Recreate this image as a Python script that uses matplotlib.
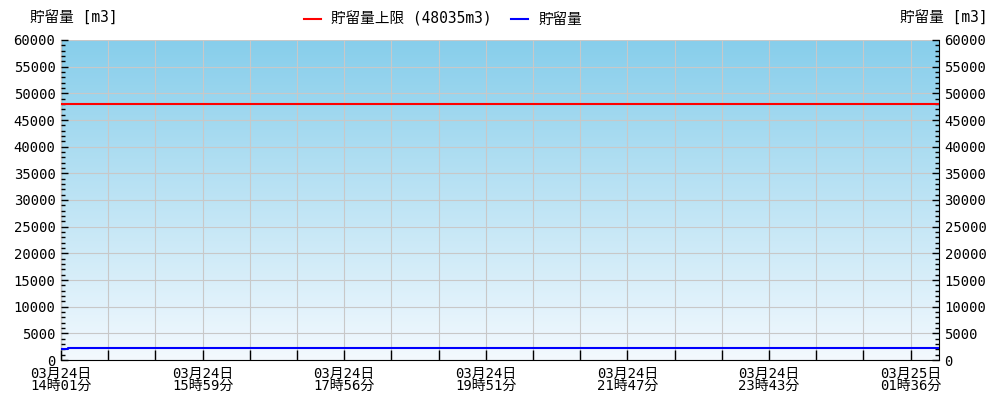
import matplotlib
matplotlib.use("Agg")
import matplotlib.pyplot as plt
import numpy as np
from matplotlib.colors import LinearSegmentedColormap
from matplotlib.ticker import MultipleLocator

plt.rcParams['font.family'] = ['DejaVu Sans Mono', 'Noto Sans CJK JP']

# data
x_idx = [0, 6, 6, 744]
storage = [2000, 2000, 2200, 2200]
upper_limit = 48035
tick_pos = [0, 120, 240, 360, 480, 600, 720]
tick_labels = ["03月24日\n14時01分", "03月24日\n15時59分", "03月24日\n17時56分",
               "03月24日\n19時51分", "03月24日\n21時47分", "03月24日\n23時43分",
               "03月25日\n01時36分"]
x_max = 744
y_max = 60000

fig = plt.figure(figsize=(10, 4), dpi=100)
ax = fig.add_axes([0.061, 0.1, 0.878, 0.8])

cmap = LinearSegmentedColormap.from_list("g", ["#f3f9fe", "#87ceeb"])
grad = np.linspace(0, 1, 256).reshape(-1, 1)
ax.imshow(grad, extent=[0, x_max, 0, y_max], origin='lower', aspect='auto',
          cmap=cmap, zorder=0)

ax.set_xlim(0, x_max)
ax.set_ylim(0, y_max)

l1, = ax.plot([0, x_max], [upper_limit, upper_limit], color='#ff0000', lw=1.5, zorder=3,
              label='貯留量上限 (48035m3)')
l2, = ax.plot(x_idx, storage, color='#0000ff', lw=1.5, zorder=3, label='貯留量')

ax.set_xticks(tick_pos)
ax.set_xticklabels(tick_labels, fontsize=10, linespacing=0.85)
ax.xaxis.set_minor_locator(MultipleLocator(40))
ax.yaxis.set_major_locator(MultipleLocator(5000))
ax.yaxis.set_minor_locator(MultipleLocator(1000))
ax.tick_params(axis='y', which='major', direction='in', length=5, width=1,
               labelsize=10, right=True, labelright=True, pad=4)
ax.tick_params(axis='y', which='minor', direction='in', length=3, width=1, right=True)
ax.tick_params(axis='x', which='both', direction='in', length=7, width=1,
               labelsize=10, pad=5)

ax.grid(True, which='major', axis='y', color='#c8c8c8', lw=0.8, zorder=1)
ax.grid(True, which='both', axis='x', color='#c8c8c8', lw=0.8, zorder=1)
ax.set_axisbelow(False)
for gl in ax.get_xgridlines() + ax.get_ygridlines():
    gl.set_zorder(1)
ax.spines['top'].set_visible(False)
for s in ['left', 'right', 'bottom']:
    ax.spines[s].set_color('black')

fig.text(0.03, 0.958, '貯留量 [m3]', fontsize=10.5, ha='left', va='center')
fig.text(0.988, 0.958, '貯留量 [m3]', fontsize=10.5, ha='right', va='center')

fig.legend(handles=[l1, l2], loc='center', bbox_to_anchor=(0.443, 0.952), ncol=2,
           frameon=False, fontsize=10.5, handlelength=1.2, columnspacing=1.3,
           handletextpad=0.7)

fig.savefig('out.png', dpi=100)
